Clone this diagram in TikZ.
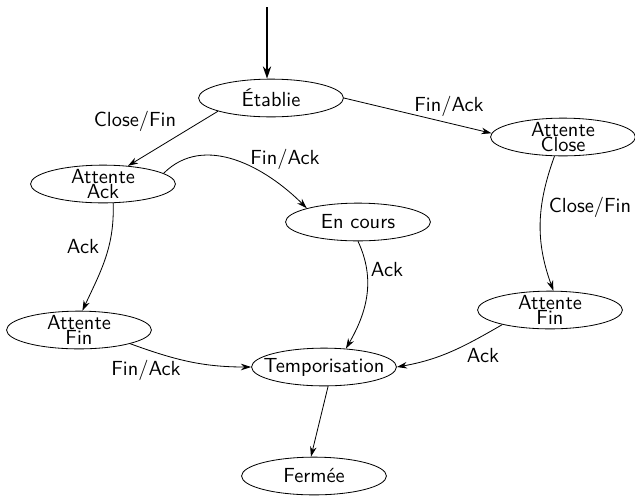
\documentclass[tikz,border=0pt]{standalone}
\usepackage{fontspec}
\usetikzlibrary{arrows.meta, shapes.geometric}
\renewcommand{\familydefault}{\sfdefault}

\begin{document}
\begin{tikzpicture}[x=0.49pt,y=0.49pt,
  state/.style={draw,ellipse,minimum width=71pt,minimum height=18.5pt,
    inner xsep=-5pt,inner ysep=-1pt,align=center},
  edge/.style={-{Stealth[length=5pt,width=3.2pt]}},
  lbl/.style={inner sep=0pt}]
\useasboundingbox (0,0) rectangle (635,-495);

% etats
\node[state] (etab) at (271,-98) {Établie};
\node[state] (ack) at (103,-184) {Attente\\[-5pt]Ack};
\node[state] (cours) at (358,-222) {En cours};
\node[state] (close) at (563,-137) {Attente\\[-5pt]Close};
\node[state] (finr) at (550,-310) {Attente\\[-5pt]Fin};
\node[state] (finl) at (79,-330) {Attente\\[-5pt]Fin};
\node[state] (temp) at (324,-367) {Temporisation};
\node[state] (ferm) at (314,-476) {Fermée};

% fleche d'entree
\coordinate (start) at (267,-7);
\draw[-{Stealth[length=6pt,width=4pt]},line width=0.9pt] (start) -- (start |- etab.north);

% transitions
\draw[edge] (etab.-166) -- (ack.36);
\draw[edge] (etab.east) -- (close.177);
\draw[edge] (ack.10) to[out=45,in=135] (cours.165);
\draw[edge] (ack.-62) to[out=-88,in=65] (finl.80);
\draw[edge] (cours.south) to[out=-65,in=60] (temp.40);
\draw[edge] (close.-114) to[out=-110,in=110] (finr.80);
\draw[edge] (finl.-15) to[out=-20,in=180] (temp.west);
\draw[edge] (finr.-163) to[out=-150,in=10] (temp.east);
\draw[edge] (temp.-78) -- (ferm.99);

% etiquettes
\node[lbl] (l1) at (135,-121) {Close/Fin};
\node[lbl] (l2) at (449,-106) {Fin/Ack};
\node[lbl] (l3) at (285,-159) {Fin/Ack};
\node[lbl] (l4) at (83,-247) {Ack};
\node[lbl] (l5) at (387,-270) {Ack};
\node[lbl] (l6) at (590,-207) {Close/Fin};
\node[lbl] (l7) at (146,-370) {Fin/Ack};
\node[lbl] (l8) at (483,-356) {Ack};
\end{tikzpicture}
\end{document}
